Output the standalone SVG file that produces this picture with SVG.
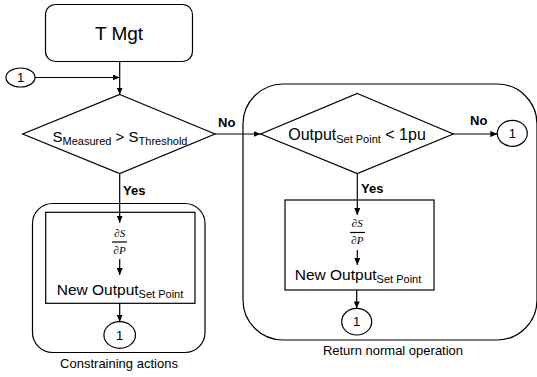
<svg xmlns="http://www.w3.org/2000/svg" width="537" height="377" viewBox="0 0 537 377">
<style>
.s{fill:none;stroke:#000;stroke-width:1.2}
.w{fill:#fff;stroke:#000;stroke-width:1.2}
text{font-family:"Liberation Sans",Arial,sans-serif;fill:#000}
.b{font-weight:bold;font-size:13px}
.f{font-family:"Liberation Serif","Times New Roman",serif;font-style:italic;font-size:11px}
.c{font-size:13px}
.l{font-size:13px}
</style>
<defs>
<marker id="ah" markerWidth="7" markerHeight="6" refX="7" refY="3" orient="auto" markerUnits="userSpaceOnUse">
<path d="M0,0 L7,3 L0,6 Z" fill="#000"/>
</marker>
</defs>
<g id="group-constraining">
<rect class="s" x="32.5" y="203.5" width="172.5" height="149" rx="20"/>
<text class="l" x="119" y="368" text-anchor="middle">Constraining actions</text>
</g>
<g id="group-return">
<rect class="s" x="243" y="84" width="294" height="256" rx="40"/>
<text class="l" x="393" y="355" text-anchor="middle">Return normal operation</text>
</g>
<g id="tmgt">
<rect class="w" x="45.5" y="4.5" width="147" height="57" rx="10"/>
<text x="119" y="40" font-size="19" text-anchor="middle">T Mgt</text>
</g>
<g id="conn-in">
<ellipse class="w" cx="20.5" cy="77.5" rx="14.5" ry="9.5"/>
<text class="c" x="20.5" y="82" text-anchor="middle">1</text>
</g>
<g id="decision1">
<polygon class="w" points="119.7,94.5 215,134 119.7,173.5 22.7,134"/>
<text x="120" y="142" font-size="15" text-anchor="middle">S<tspan font-size="11" dy="3">Measured</tspan><tspan dy="-3"> &gt; S</tspan><tspan font-size="11" dy="3">Threshold</tspan></text>
</g>
<g id="decision2">
<polygon class="w" points="357.3,93.5 453.3,134 357.3,173.5 260.7,134"/>
<text x="357" y="140" font-size="16" text-anchor="middle">Output<tspan font-size="11" dy="3">Set Point</tspan><tspan dy="-3"> &lt; 1pu</tspan></text>
</g>
<g id="conn-no">
<ellipse class="w" cx="512.3" cy="133.3" rx="15" ry="13"/>
<text class="c" x="512.3" y="138" text-anchor="middle">1</text>
</g>
<g id="box-left">
<rect class="w" x="45.7" y="212.3" width="149.3" height="91"/>
<text class="f" x="119.7" y="237" text-anchor="middle">∂S</text>
<line class="s" x1="112" y1="242" x2="127" y2="242"/>
<text class="f" x="119.7" y="254" text-anchor="middle">∂P</text>
<text x="120" y="295" font-size="15.5" text-anchor="middle">New Output<tspan font-size="11" dy="3">Set Point</tspan></text>
</g>
<g id="box-right">
<rect class="w" x="285" y="200" width="149" height="90"/>
<text class="f" x="357.3" y="227" text-anchor="middle">∂S</text>
<line class="s" x1="350" y1="232.5" x2="365" y2="232.5"/>
<text class="f" x="357.3" y="244" text-anchor="middle">∂P</text>
<text x="358" y="280" font-size="15.5" text-anchor="middle">New Output<tspan font-size="11" dy="3">Set Point</tspan></text>
</g>
<g id="conn-left">
<ellipse class="w" cx="119.7" cy="335" rx="15.8" ry="13.3"/>
<text class="c" x="119.7" y="339.5" text-anchor="middle">1</text>
</g>
<g id="conn-right">
<ellipse class="w" cx="356.7" cy="321.7" rx="15" ry="13.3"/>
<text class="c" x="356.7" y="326.3" text-anchor="middle">1</text>
</g>
<g id="connectors">
<line class="s" x1="119.7" y1="61.5" x2="119.7" y2="94.5" marker-end="url(#ah)"/>
<line class="s" x1="35" y1="77.5" x2="119.7" y2="77.5" marker-end="url(#ah)"/>
<line class="s" x1="215" y1="134" x2="260.7" y2="134" marker-end="url(#ah)"/>
<line class="s" x1="453.3" y1="134" x2="497.3" y2="134" marker-end="url(#ah)"/>
<line class="s" x1="119.7" y1="173.5" x2="119.7" y2="222.7" marker-end="url(#ah)"/>
<line class="s" x1="119.7" y1="259" x2="119.7" y2="275" marker-end="url(#ah)"/>
<line class="s" x1="119.7" y1="303.3" x2="119.7" y2="321.7" marker-end="url(#ah)"/>
<line class="s" x1="357.3" y1="173.5" x2="357.3" y2="215" marker-end="url(#ah)"/>
<line class="s" x1="357.3" y1="250" x2="357.3" y2="265" marker-end="url(#ah)"/>
<line class="s" x1="356.7" y1="290" x2="356.7" y2="308.4" marker-end="url(#ah)"/>
<text class="b" x="218" y="127">No</text>
<text class="b" x="470" y="125">No</text>
<text class="b" x="123" y="195">Yes</text>
<text class="b" x="361" y="193">Yes</text>
</g>
</svg>
